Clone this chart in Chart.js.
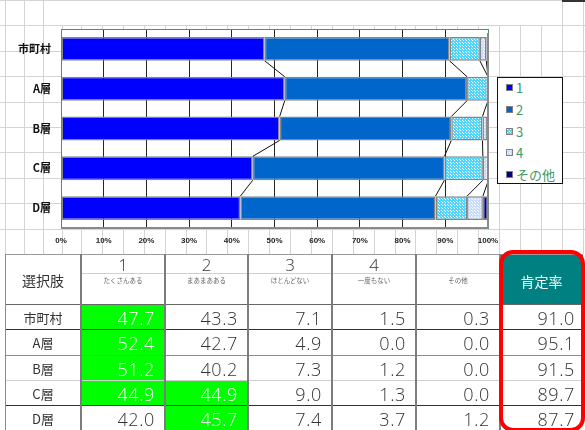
<!DOCTYPE html>
<html>
<head>
<meta charset="utf-8">
<script src="https://cdn.jsdelivr.net/npm/chart.js@4"></script>
<style>
  html, body { margin: 0; padding: 0; background: #fff; }
  #stage { position: relative; width: 585px; height: 430px; overflow: hidden;
           font-family: "Noto Sans CJK JP", "Noto Sans", sans-serif; }
  #sheet { position: absolute; left: 0; top: 0; }
  #chartBox { position: absolute; left: 0; top: 0; width: 585px; height: 254px; }
  #legend { position: absolute; left: 497px; top: 77px; width: 66px; height: 107px;
            box-sizing: border-box; border: 1px solid #111; background: #fff; }
  .lg-item { position: absolute; left: 8px; height: 16px; line-height: 16px;
             font-size: 13px; color: #3a9a6a; white-space: nowrap; }
  .lg-item canvas { position: absolute; left: 0; top: 4px; }
  .lg-item span { position: absolute; left: 10px; top: 0; }
  .cell { position: absolute; box-sizing: border-box; white-space: nowrap; }
  .num { font-family: "Open Sans", "Liberation Sans", sans-serif; font-weight: 300;
         font-size: 18px; letter-spacing: 0.6px; color: #333; text-align: right; }
  .hline, .vline { position: absolute; }
  #ring { position: absolute; left: 499px; top: 250px; width: 86px; height: 182px;
          box-sizing: border-box; border: 4px solid #ff0000; border-radius: 14px; }
</style>
</head>
<body>
<div id="stage">
  <canvas id="sheet" width="585" height="430"></canvas>
  <div id="chartBox"><canvas id="chart" width="585" height="254"></canvas></div>
  <div id="legend"></div>
  <div id="table"></div>
  <div id="ring"></div>
</div>
<script>
// ---- data ----
const categories   = ['市町村', 'A層', 'B層', 'C層', 'D層'];
const seriesNames  = ['1', '2', '3', '4', 'その他'];
const choiceNotes  = ['たくさんある', 'まあまあある', 'ほとんどない', '一度もない', 'その他'];
const tableHead    = '選択肢';
const rateHead     = '肯定率';
const valuesMany   = [47.7, 52.4, 51.2, 44.9, 42.0];
const valuesSome   = [43.3, 42.7, 40.2, 44.9, 45.7];
const valuesRarely = [7.1, 4.9, 7.3, 9.0, 7.4];
const valuesNever  = [1.5, 0.0, 1.2, 1.3, 3.7];
const valuesOther  = [0.3, 0.0, 0.0, 0.0, 1.2];
const positiveRate = [91.0, 95.1, 91.5, 89.7, 87.7];

const seriesValues = [valuesMany, valuesSome, valuesRarely, valuesNever, valuesOther];

// ---- fills: two dotted textures and three solid blues ----
function dotted(bg, dot) {
  const c = document.createElement('canvas');
  c.width = 3; c.height = 3;
  const g = c.getContext('2d');
  const img = g.createImageData(3, 3);
  const hex = h => [parseInt(h.slice(1, 3), 16), parseInt(h.slice(3, 5), 16), parseInt(h.slice(5, 7), 16)];
  const b = hex(bg), d = hex(dot);
  for (let p = 0; p < 9; p++) {
    const col = (p === 0 || p === 4) ? d : b;
    img.data[p * 4] = col[0]; img.data[p * 4 + 1] = col[1];
    img.data[p * 4 + 2] = col[2]; img.data[p * 4 + 3] = 255;
  }
  g.putImageData(img, 0, 0);
  return g.createPattern(c, 'repeat');
}
const fills = [
  '#0000ff',
  '#0066cc',
  dotted('#4fd8ff', '#ffffff'),
  dotted('#c8ddff', '#ffffff'),
  '#000080'
];

// ---- worksheet grid behind everything ----
(function drawSheet() {
  const g = document.getElementById('sheet').getContext('2d');
  g.strokeStyle = '#d4d4d4';
  g.lineWidth = 1;
  const rowStep = 25.4;
  const colsX = [5, 24, 43, 62, 81];
  for (let k = 1; k <= 24; k++) colsX.push(81 + 20.9 * k);
  const line = (x1, y1, x2, y2) => { g.beginPath(); g.moveTo(x1, y1); g.lineTo(x2, y2); g.stroke(); };
  for (let k = 0; k <= 9; k++) {
    const y = Math.round(rowStep * k) + 0.5;
    line(0, y, 585, y);
  }
  colsX.forEach(x => {
    const px = Math.round(x) + 0.5;
    const topRowOpen = x <= 43 || x >= 560;
    line(px, topRowOpen ? 0 : 25.4, px, 254);
  });
  g.strokeStyle = '#333'; g.lineWidth = 2;
  line(562, 1, 585, 1);
})();

// ---- chart plugins ----
const plotFrame = {
  id: 'plotFrame',
  beforeDraw(chart) {
    const a = chart.chartArea, g = chart.ctx;
    g.save(); g.fillStyle = '#fff';
    g.fillRect(a.left, a.top, a.right - a.left, a.bottom - a.top);
    g.restore();
  },
  afterDatasetsDraw(chart) {
    const a = chart.chartArea, g = chart.ctx;
    g.save();
    // series lines joining the segment ends of neighbouring bars
    g.strokeStyle = '#111'; g.lineWidth = 1;
    chart.data.datasets.forEach((ds, i) => {
      const bars = chart.getDatasetMeta(i).data;
      for (let j = 0; j < bars.length - 1; j++) {
        const a1 = bars[j], b1 = bars[j + 1];
        g.beginPath();
        g.moveTo(a1.x, a1.y + a1.height / 2);
        g.lineTo(b1.x, b1.y - b1.height / 2);
        g.stroke();
      }
    });
    // plot-area frame and axis line
    g.strokeStyle = '#3a9a6a'; g.lineWidth = 1;
    g.strokeRect(Math.round(a.left) + 0.5, Math.round(a.top) + 0.5,
                 Math.round(a.right - a.left), Math.round(a.bottom - a.top));
    g.strokeStyle = '#8a8a8a'; g.lineWidth = 2;
    g.beginPath(); g.moveTo(a.left, a.bottom); g.lineTo(a.right, a.bottom); g.stroke();
    g.beginPath(); g.moveTo(a.right, a.top + 4); g.lineTo(a.right, a.bottom); g.stroke();
    g.restore();
  }
};

new Chart(document.getElementById('chart'), {
  type: 'bar',
  data: {
    labels: categories,
    datasets: seriesNames.map((name, i) => ({
      label: name,
      data: seriesValues[i],
      backgroundColor: fills[i],
      hoverBackgroundColor: fills[i],
      borderColor: '#858585',
      borderWidth: ctx => (ctx.raw ? 1.5 : 0),
      borderSkipped: false,
      barPercentage: 0.6,
      categoryPercentage: 1
    }))
  },
  options: {
    indexAxis: 'y',
    responsive: false,
    animation: false,
    layout: { padding: { left: 0, top: 29, right: 97, bottom: 0 } },
    plugins: { legend: { display: false }, tooltip: { enabled: false } },
    scales: {
      x: {
        stacked: true, min: 0, max: 100,
        ticks: { stepSize: 10, autoSkip: false, maxRotation: 0, padding: 8,
                 callback: v => v + '%', color: '#222',
                 font: { family: 'Liberation Sans', size: 8, weight: 'bold' } },
        grid: { color: '#262626', lineWidth: 1, drawTicks: false },
        border: { display: false },
        afterFit: s => { s.height = 26; }
      },
      y: {
        stacked: true,
        ticks: { padding: 10, color: '#111',
                 font: { family: '"Noto Sans CJK JP"', size: 11, weight: 'bold' } },
        grid: { display: false, drawTicks: false },
        border: { display: false },
        afterFit: s => { s.width = 61; }
      }
    }
  },
  plugins: [plotFrame]
});

// ---- legend ----
(function buildLegend() {
  const box = document.getElementById('legend');
  seriesNames.forEach((name, i) => {
    const item = document.createElement('div');
    item.className = 'lg-item';
    item.style.top = (2 + i * 21.8) + 'px';
    const sw = document.createElement('canvas');
    sw.width = 7; sw.height = 7;
    const g = sw.getContext('2d');
    g.fillStyle = fills[i]; g.fillRect(0, 0, 7, 7);
    g.strokeStyle = '#808080'; g.lineWidth = 1; g.strokeRect(0.5, 0.5, 6, 6);
    const t = document.createElement('span');
    t.textContent = name;
    item.appendChild(sw); item.appendChild(t);
    box.appendChild(item);
  });
})();

// ---- table ----
(function buildTable() {
  const root = document.getElementById('table');
  const colX = [5, 81, 165, 248, 332, 416, 500, 583];
  const headTop = 254, headBottom = 304.8, rowH = 25.4;
  const add = (cls, l, t, w, h, css, text) => {
    const d = document.createElement('div');
    d.className = cls;
    d.style.left = l + 'px'; d.style.top = t + 'px';
    d.style.width = w + 'px'; d.style.height = h + 'px';
    Object.assign(d.style, css || {});
    if (text !== undefined) d.textContent = text;
    root.appendChild(d);
    return d;
  };

  // header
  add('cell', colX[0], headTop, colX[1] - colX[0], headBottom - headTop,
      { lineHeight: '52px', textAlign: 'center', fontSize: '14px', color: '#333' }, tableHead);
  choiceNotes.forEach((note, i) => {
    const l = colX[i + 1], w = colX[i + 2] - l;
    if (i < 4) {
      add('cell', l, 256, w, 18, { textAlign: 'center', fontSize: '17px', lineHeight: '18px',
          fontFamily: '"Open Sans", sans-serif', fontWeight: '300', color: '#333' }, String(i + 1));
    }
    add('cell', l, 275, w, 10, { textAlign: 'center', fontSize: '6.5px', lineHeight: '10px',
        color: '#666' }, note);
  });
  add('hline', colX[1], 273, colX[6] - colX[1], 1, { background: '#cfcfcf' });
  add('cell', colX[6], headTop, colX[7] - colX[6], headBottom - headTop,
      { background: '#008080', color: '#fff', textAlign: 'center', fontSize: '14px', lineHeight: '54px' }, rateHead);

  // body rows
  categories.forEach((cat, r) => {
    const top = headBottom + rowH * r;
    add('cell', colX[0], top, colX[1] - colX[0], rowH,
        { textAlign: 'center', fontSize: '13px', lineHeight: '26px', color: '#333' }, cat);
    const rowVals = seriesValues.map(s => s[r]);
    const best = Math.max(...rowVals.slice(0, 4));
    rowVals.forEach((v, c) => {
      const l = colX[c + 1], w = colX[c + 2] - l;
      const hit = c < 4 && v === best;
      add('cell num', l, top, w, rowH,
          { lineHeight: '27px', paddingRight: '10px',
            background: hit ? '#00ff00' : 'transparent', color: hit ? '#fff' : '#333' },
          v.toFixed(1));
    });
    add('cell num', colX[6], top, colX[7] - colX[6], rowH,
        { lineHeight: '27px', paddingRight: '8px' }, positiveRate[r].toFixed(1));
  });

  // rules
  add('hline', colX[0], headTop, colX[7] - colX[0], 1, { background: '#9a9a9a' });
  const rowRules = ['#666', '#333', '#8c8c8c', '#d0d0d0', '#333'];
  rowRules.forEach((col, k) => {
    add('hline', colX[0], Math.round(headBottom + rowH * k) - 1, colX[7] - colX[0], 1, { background: col });
  });
  colX.slice(0, 7).forEach((x, k) => {
    add('vline', x - (k ? 1 : 0), headTop, k ? 2 : 1, 430 - headTop, { background: k ? '#7c7c7c' : '#8a8a8a' });
  });
})();
</script>
</body>
</html>
